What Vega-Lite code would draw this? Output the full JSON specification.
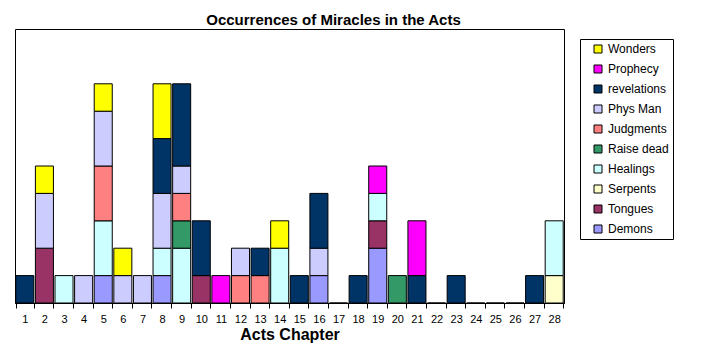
{
  "$schema": "https://vega.github.io/schema/vega-lite/v6.json",
  "width": 549,
  "height": 274,
  "autosize": "none",
  "padding": {"left": 15, "top": 29, "right": 140, "bottom": 49},
  "background": "white",
  "title": {
    "text": "Occurrences of Miracles in the Acts",
    "font": "Liberation Sans",
    "fontSize": 15,
    "fontWeight": "bold",
    "color": "black",
    "anchor": "middle",
    "frame": "group",
    "dx": 44,
    "dy": 15,
    "offset": 4,
    "baseline": "alphabetic"
  },
  "config": {
    "view": {"stroke": "black", "strokeWidth": 1},
    "font": "Liberation Sans"
  },
  "datasets": {
    "series": [
      {"series": "Demons", "rank": 1},
      {"series": "Tongues", "rank": 2},
      {"series": "Serpents", "rank": 3},
      {"series": "Healings", "rank": 4},
      {"series": "Raise dead", "rank": 5},
      {"series": "Judgments", "rank": 6},
      {"series": "Phys Man", "rank": 7},
      {"series": "revelations", "rank": 8},
      {"series": "Prophecy", "rank": 9},
      {"series": "Wonders", "rank": 10}
    ]
  },
  "data": {
    "values": [
      {"chapter": 1, "series": "revelations", "count": 1},
      {"chapter": 2, "series": "Tongues", "count": 2},
      {"chapter": 2, "series": "Phys Man", "count": 2},
      {"chapter": 2, "series": "Wonders", "count": 1},
      {"chapter": 3, "series": "Healings", "count": 1},
      {"chapter": 4, "series": "Phys Man", "count": 1},
      {"chapter": 5, "series": "Demons", "count": 1},
      {"chapter": 5, "series": "Healings", "count": 2},
      {"chapter": 5, "series": "Judgments", "count": 2},
      {"chapter": 5, "series": "Phys Man", "count": 2},
      {"chapter": 5, "series": "Wonders", "count": 1},
      {"chapter": 6, "series": "Phys Man", "count": 1},
      {"chapter": 6, "series": "Wonders", "count": 1},
      {"chapter": 7, "series": "Phys Man", "count": 1},
      {"chapter": 8, "series": "Demons", "count": 1},
      {"chapter": 8, "series": "Healings", "count": 1},
      {"chapter": 8, "series": "Phys Man", "count": 2},
      {"chapter": 8, "series": "revelations", "count": 2},
      {"chapter": 8, "series": "Wonders", "count": 2},
      {"chapter": 9, "series": "Healings", "count": 2},
      {"chapter": 9, "series": "Raise dead", "count": 1},
      {"chapter": 9, "series": "Judgments", "count": 1},
      {"chapter": 9, "series": "Phys Man", "count": 1},
      {"chapter": 9, "series": "revelations", "count": 3},
      {"chapter": 10, "series": "Tongues", "count": 1},
      {"chapter": 10, "series": "revelations", "count": 2},
      {"chapter": 11, "series": "Prophecy", "count": 1},
      {"chapter": 12, "series": "Judgments", "count": 1},
      {"chapter": 12, "series": "Phys Man", "count": 1},
      {"chapter": 13, "series": "Judgments", "count": 1},
      {"chapter": 13, "series": "revelations", "count": 1},
      {"chapter": 14, "series": "Healings", "count": 2},
      {"chapter": 14, "series": "Wonders", "count": 1},
      {"chapter": 15, "series": "revelations", "count": 1},
      {"chapter": 16, "series": "Demons", "count": 1},
      {"chapter": 16, "series": "Phys Man", "count": 1},
      {"chapter": 16, "series": "revelations", "count": 2},
      {"chapter": 17, "series": "revelations", "count": 0},
      {"chapter": 18, "series": "revelations", "count": 1},
      {"chapter": 19, "series": "Demons", "count": 2},
      {"chapter": 19, "series": "Tongues", "count": 1},
      {"chapter": 19, "series": "Healings", "count": 1},
      {"chapter": 19, "series": "Prophecy", "count": 1},
      {"chapter": 20, "series": "Raise dead", "count": 1},
      {"chapter": 21, "series": "revelations", "count": 1},
      {"chapter": 21, "series": "Prophecy", "count": 2},
      {"chapter": 22, "series": "revelations", "count": 0},
      {"chapter": 23, "series": "revelations", "count": 1},
      {"chapter": 24, "series": "revelations", "count": 0},
      {"chapter": 25, "series": "revelations", "count": 0},
      {"chapter": 26, "series": "revelations", "count": 0},
      {"chapter": 27, "series": "revelations", "count": 1},
      {"chapter": 28, "series": "Serpents", "count": 1},
      {"chapter": 28, "series": "Healings", "count": 2}
    ]
  },
  "transform": [
    {"lookup": "series", "from": {"data": {"name": "series"}, "key": "series", "fields": ["rank"]}}
  ],
  "mark": {"type": "bar", "stroke": "black", "strokeWidth": 1, "opacity": 1},
  "encoding": {
    "x": {
      "field": "chapter",
      "type": "ordinal",
      "sort": "ascending",
      "scale": {"paddingInner": 0.08, "paddingOuter": 0.04},
      "axis": {
        "title": "Acts Chapter",
        "titleFont": "Liberation Sans",
        "titleFontSize": 16,
        "titleFontWeight": "bold",
        "titleColor": "black",
        "titlePadding": 2,
        "labelAngle": 0,
        "labelFont": "Liberation Sans",
        "labelFontSize": 11,
        "labelColor": "black",
        "labelPadding": 5,
        "domainColor": "black",
        "domainWidth": 1,
        "tickColor": "black",
        "tickBand": "extent",
        "tickSize": 5,
        "grid": false
      }
    },
    "y": {
      "field": "count",
      "type": "quantitative",
      "stack": "zero",
      "scale": {"domain": [0, 10], "nice": false},
      "axis": null
    },
    "order": {"field": "rank", "type": "quantitative", "sort": "ascending"},
    "color": {
      "field": "series",
      "type": "nominal",
      "sort": ["Wonders", "Prophecy", "revelations", "Phys Man", "Judgments", "Raise dead", "Healings", "Serpents", "Tongues", "Demons"],
      "scale": {
        "domain": ["Wonders", "Prophecy", "revelations", "Phys Man", "Judgments", "Raise dead", "Healings", "Serpents", "Tongues", "Demons"],
        "range": ["#FFFF00", "#FF00FF", "#003366", "#CCCCFF", "#FF8080", "#339966", "#CCFFFF", "#FFFFCC", "#993366", "#9999FF"]
      },
      "legend": {
        "title": null,
        "orient": "none",
        "legendX": 565,
        "legendY": 10,
        "strokeColor": "black",
        "fillColor": "white",
        "padding": 4,
        "symbolOffset": 8,
        "symbolType": "square",
        "symbolSize": 64,
        "symbolStrokeColor": "black",
        "symbolStrokeWidth": 1,
        "symbolOpacity": 1,
        "labelFont": "Liberation Sans",
        "labelFontSize": 12,
        "labelColor": "black",
        "labelOffset": 4,
        "rowPadding": 8
      }
    }
  }
}
